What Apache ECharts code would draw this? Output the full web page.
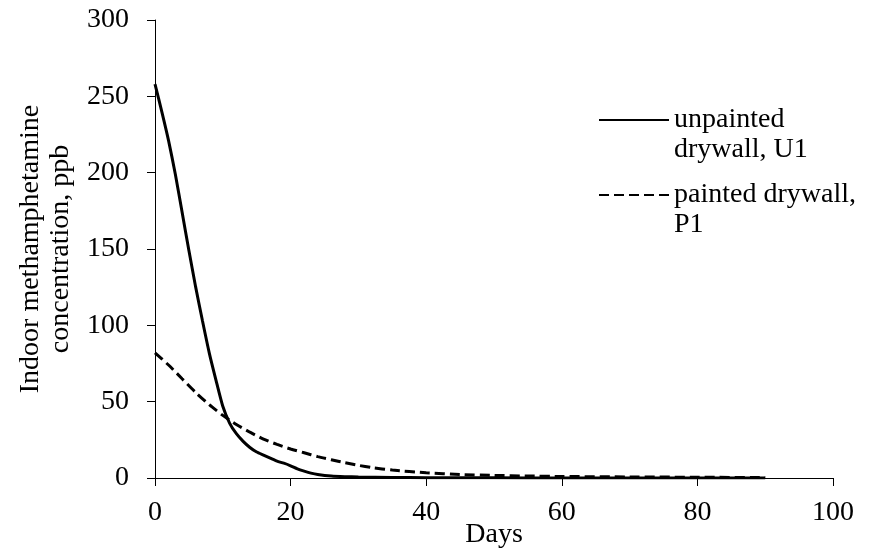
<!DOCTYPE html>
<html>
<head>
<meta charset="utf-8">
<script src="https://cdn.jsdelivr.net/npm/echarts@6/dist/echarts.min.js"></script>
<style>
    html, body { margin: 0; padding: 0; background: #fff; }
    #main { width: 884px; height: 550px; }
</style>
</head>
<body>
<div id="main"></div>
<script>
// 未涂漆石膏板 U1
var unpaintedDays = [0, 1, 2, 3, 4, 5, 6, 7, 8, 9, 10, 11, 12, 13, 14, 15, 16, 17, 18, 19, 20, 21, 22, 23, 24, 26, 28, 30, 35, 40, 50, 60, 70, 80, 90];
var unpaintedVals = [258, 240, 221, 199, 174, 149, 125, 103, 82, 64, 47, 36, 29, 24, 20, 17, 15, 13, 11, 9.7, 8, 6, 4.5, 3.2, 2.3, 1.3, 0.9, 0.7, 0.4, 0.2, 0.1, 0, 0, 0, 0];
// 涂漆石膏板 P1
var paintedDays = [0, 2, 4, 6, 8, 10, 12, 14, 16, 18, 20, 22, 24, 26, 28, 30, 32, 35, 40, 45, 50, 55, 60, 70, 80, 90];
var paintedVals = [82, 74, 65, 56, 48, 41, 35, 30, 25.5, 22, 19, 16.5, 14, 12, 10, 8.3, 6.8, 5.2, 3.4, 2.3, 1.7, 1.3, 1.0, 0.7, 0.5, 0.3];
var seriesNames = ['unpainted drywall, U1', 'painted drywall, P1'];

function pairs(xs, ys) {
    var out = [];
    for (var i = 0; i < xs.length; i++) out.push([xs[i], ys[i]]);
    return out;
}

var font = 'Liberation Serif';
var fs = 28;
var myChart = echarts.init(document.getElementById('main'));
var option = {
    backgroundColor: '#fff',
    animation: false,
    textStyle: { fontFamily: font, color: '#000' },
    grid: { left: 155, right: 51, top: 20, bottom: 72, containLabel: false, outerBoundsMode: 'none' },
    legend: [
        {
            data: [seriesNames[0]],
            left: 593, top: 70,
            itemWidth: 70, itemHeight: 14,
            itemStyle: { opacity: 0 },
            // 空行让图例线对齐第一行文字
            formatter: function () { return ' \nunpainted\ndrywall, U1'; },
            textStyle: { fontFamily: font, fontSize: fs, color: '#000', lineHeight: 30 }
        },
        {
            data: [seriesNames[1]],
            left: 593, top: 145,
            itemWidth: 70, itemHeight: 14,
            itemStyle: { opacity: 0 },
            formatter: function () { return ' \npainted drywall,\nP1'; },
            textStyle: { fontFamily: font, fontSize: fs, color: '#000', lineHeight: 30 }
        }
    ],
    xAxis: {
        type: 'value',
        min: 0, max: 100, interval: 20,
        name: 'Days',
        nameLocation: 'middle',
        nameGap: 43,
        nameMoveOverlap: false,
        nameTextStyle: { fontFamily: font, fontSize: fs, color: '#000' },
        axisLine: { onZero: false, lineStyle: { color: '#000', width: 1 } },
        axisTick: { inside: false, length: 8, lineStyle: { color: '#000' } },
        axisLabel: { margin: 21, fontFamily: font, fontSize: fs, color: '#000' },
        splitLine: { show: false }
    },
    yAxis: {
        type: 'value',
        min: 0, max: 300, interval: 50,
        name: 'Indoor methamphetamine\nconcentration, ppb',
        nameLocation: 'middle',
        nameGap: 79,
        nameMoveOverlap: false,
        nameTextStyle: { fontFamily: font, fontSize: fs, color: '#000', lineHeight: 30 },
        axisLine: { show: true, lineStyle: { color: '#000', width: 1 } },
        axisTick: { show: true, inside: false, length: 8, lineStyle: { color: '#000' } },
        axisLabel: { margin: 26, fontFamily: font, fontSize: fs, color: '#000' },
        splitLine: { show: false }
    },
    series: [
        {
            name: seriesNames[0],
            type: 'line',
            smooth: 0.2,
            showSymbol: false,
            symbol: 'none',
            lineStyle: { color: '#000', width: 3, type: 'solid' },
            itemStyle: { color: '#000' },
            data: pairs(unpaintedDays, unpaintedVals)
        },
        {
            name: seriesNames[1],
            type: 'line',
            smooth: 0.2,
            showSymbol: false,
            symbol: 'none',
            lineStyle: { color: '#000', width: 3, type: [10, 5] },
            itemStyle: { color: '#000' },
            data: pairs(paintedDays, paintedVals)
        }
    ]
};
if (option && typeof option === "object") {
    myChart.setOption(option, true);
}
</script>
</body>
</html>
